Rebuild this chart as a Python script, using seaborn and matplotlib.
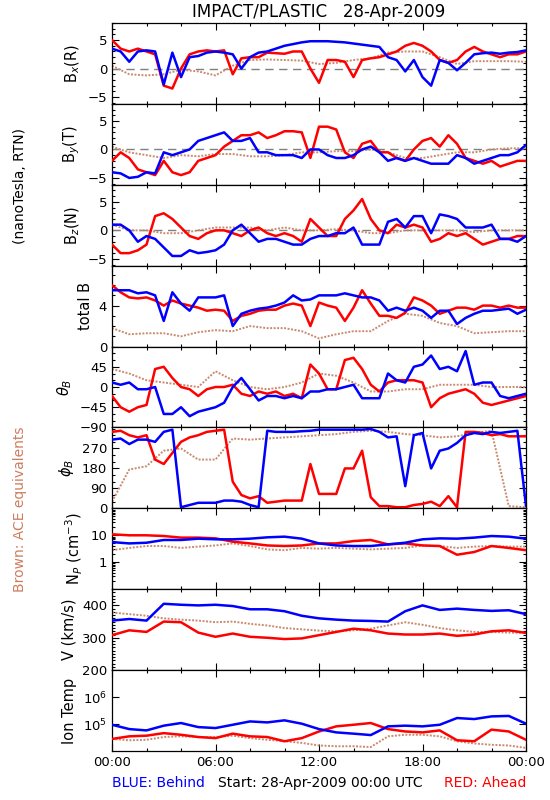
import numpy as np
import matplotlib
matplotlib.use('Agg')
import matplotlib.pyplot as plt
from matplotlib.ticker import MultipleLocator, FixedLocator, NullFormatter, NullLocator, LogLocator
import seaborn as sns

# time grids (hours after 28-Apr-2009 00:00 UTC)
hours = np.arange(0, 24.5, 0.5)      # STEREO A/B, half-hourly reads
hours_ace = np.arange(0, 25, 1)      # ACE and plasma, hourly reads

# --- magnetic field, nT (half-hourly for STEREO, hourly for ACE) ---
bx_blue = [3.5, 3.0, 1.2, 3.0, 3.2, 3.0, -2.8, 2.8, -1.5, 2.0, 2.2, 2.8, 3.0, 2.8, 2.5, 0.0,
           2.0, 2.8, 3.0, 3.5, 4.0, 4.3, 4.6, 4.8, 4.8, 4.8, 4.7, 4.6, 4.4, 4.2, 4.0, 3.8,
           2.0, 1.5, -0.5, 1.5, -1.5, -3.0, 1.5, 1.0, -0.3, 1.0, 2.5, 2.7, 2.8, 2.6, 2.8, 2.9, 3.2]
bx_red = [5.0, 3.5, 3.0, 3.5, 3.0, 2.5, -3.0, -3.5, 0.0, 2.5, 3.0, 3.2, 3.0, 3.2, -1.0, 1.8,
          2.0, 2.0, 2.8, 2.7, 2.6, 3.0, 3.0, 0.0, -2.5, 1.5, 1.5, 1.2, -1.5, 1.5, 1.8, 2.0,
          2.5, 3.0, 4.0, 4.5, 4.0, 3.0, 1.5, 1.0, 1.5, 3.0, 3.8, 3.0, 2.5, 2.0, 2.5, 2.5, 3.0]
bx_brown = [0.5, -1.0, -1.2, -1.0, -0.2, -0.5, -1.2, 0.5, 1.5, 1.6, 1.5, 1.4, 0.8, 1.0, 1.5,
            1.8, 2.8, 3.0, 3.0, 2.0, 0.8, 1.3, 1.3, 1.3, 1.2]

by_blue = [-4.0, -4.2, -5.0, -4.8, -4.0, -4.2, -0.5, -1.0, -0.5, 0.0, 1.5, 2.0, 2.5, 3.0, 1.5, 1.5,
           2.0, -0.5, -0.5, -1.0, -1.0, -1.0, -1.5, 0.0, 0.0, -1.0, -1.5, -1.5, -1.0, 0.0, 0.5, -0.5,
           -2.0, -1.5, -2.0, -1.5, -2.0, -2.5, -2.5, -2.5, -1.0, -1.5, -2.5, -2.0, -1.5, -1.0, -1.0, -0.5, 0.8]
by_red = [-2.0, -0.5, -1.5, -3.5, -4.0, -4.5, -2.0, -4.0, -4.5, -4.0, -2.0, -1.5, -1.0, 0.5, 1.5, 2.5,
          2.5, 3.0, 2.0, 2.5, 3.2, 3.2, 3.0, -1.5, 4.0, 4.0, 3.5, -0.5, -1.5, 1.0, 1.5, -0.5,
          -0.5, -1.5, -2.0, 0.0, 1.5, 2.0, 0.5, 2.5, 1.0, -1.5, -2.0, -2.5, -2.0, -3.0, -2.5, -2.0, -2.0]
by_brown = [0.5, -0.5, -1.0, -1.5, -1.0, -1.2, -0.8, -0.8, -1.2, -1.2, -1.0, -0.5, -0.5, -0.3,
            -0.3, 0.0, -0.5, -1.5, -1.5, -1.0, -0.5, -0.5, 0.0, 0.2, 0.2]

bz_blue = [1.0, 1.0, 0.0, -2.0, -1.0, -1.5, -3.0, -4.5, -4.5, -3.5, -4.0, -3.8, -3.5, -2.5, 0.0, 1.0,
           -0.5, -2.0, -1.5, -1.5, -2.0, -2.5, -2.5, -1.5, -1.0, -1.0, -0.5, -0.5, 0.5, -2.5, -2.5, -2.5,
           1.5, 2.0, 0.5, 2.5, 2.5, -0.5, 2.8, 2.5, 2.0, 0.5, 0.5, 0.5, 1.0, -1.5, -1.5, -2.0, -1.0]
bz_red = [-2.5, -4.0, -4.0, -3.5, -2.5, 2.5, 3.0, 2.0, 0.5, -1.0, -1.5, -0.5, 0.0, 0.0, -0.5, -1.0,
          0.0, 0.5, -0.5, -1.0, -0.5, -1.0, -2.0, 2.0, 0.5, -1.0, -1.0, 2.0, 3.5, 5.5, 2.0, 0.0,
          -0.5, 1.0, 0.5, 1.0, 0.5, -2.0, -1.5, -0.5, -1.0, -0.5, -1.5, -2.5, -2.0, -1.5, -1.5, -1.0, -1.0]
bz_brown = [1.0, 0.0, 0.0, -0.5, -0.5, 0.0, 0.5, 0.5, 0.5, 0.0, 0.5, 0.0, 0.0, 0.2, 0.0, -0.5,
            -0.5, 0.0, 0.0, 0.0, 0.0, -0.3, 0.0, 0.0, 0.0]

btot_blue = [5.5, 5.5, 5.5, 5.2, 5.3, 5.0, 2.5, 5.3, 4.2, 3.5, 4.8, 4.8, 4.8, 5.0, 2.0, 3.2,
             3.5, 3.7, 3.8, 4.0, 4.3, 5.0, 4.5, 4.6, 5.0, 5.0, 5.0, 5.2, 5.0, 4.8, 4.8, 4.5,
             3.5, 3.8, 3.5, 3.8, 3.5, 2.8, 3.5, 3.5, 2.2, 2.8, 3.2, 3.5, 3.5, 3.6, 3.7, 3.2, 3.6]
btot_red = [6.0, 5.3, 4.8, 4.7, 4.8, 4.5, 4.0, 4.5, 4.2, 4.0, 3.8, 3.5, 3.6, 3.5, 2.5, 3.0,
            3.2, 3.5, 3.6, 3.6, 4.0, 4.2, 4.0, 2.0, 4.3, 4.0, 3.8, 2.5, 3.8, 5.5, 4.2, 3.0,
            3.0, 2.8, 3.3, 4.8, 4.5, 4.0, 3.2, 3.5, 3.8, 3.8, 3.6, 4.0, 4.0, 3.8, 4.0, 3.8, 3.8]
btot_brown = [1.8, 1.2, 1.3, 1.3, 1.0, 1.4, 1.6, 1.5, 2.0, 1.8, 1.8, 1.5, 0.8, 1.2, 1.5, 1.5,
              2.5, 3.2, 3.0, 2.3, 2.0, 1.3, 1.4, 1.5, 1.5]

theta_blue = [10, 5, 10, -5, -5, 0, -60, -60, -45, -65, -55, -50, -45, -35, 0, 20,
              -5, -30, -20, -20, -25, -20, -25, -10, -10, -5, -5, 0, 5, -25, -25, -25,
              30, 15, 10, 45, 50, 70, 40, 45, 35, 80, 5, 10, 10, -20, -25, -20, -15]
theta_red = [-20, -45, -55, -45, -40, 40, 45, 20, 0, -5, -20, -5, 0, 0, 5, -15,
             -20, -10, -15, -10, -20, -15, -25, 50, 30, -5, -5, 60, 65, 40, 5, -10,
             10, 15, 15, 15, 10, -45, -25, -15, -10, -5, -15, -35, -40, -35, -30, -25, -20]
theta_brown = [40, 30, 15, 10, 5, 0, 35, 15, 0, -5, 0, 10, 30, 25, 10, -10, -10, -5, -5, 5,
               5, 5, 0, 0, 0]

phi_blue = [310, 315, 290, 310, 310, 300, 345, 355, 5, 15, 25, 25, 25, 35, 35, 30,
            15, 5, 350, 345, 345, 345, 348, 350, 355, 355, 355, 355, 355, 355, 358, 345,
            320, 325, 100, 330, 340, 180, 260, 270, 295, 330, 340, 335, 345, 340, 345, 350, 10]
phi_red = [345, 350, 330, 320, 330, 220, 200, 250, 300, 320, 330, 345, 350, 355, 120, 60,
           45, 55, 25, 30, 35, 35, 35, 200, 65, 65, 65, 180, 180, 260, 50, 10,
           10, 5, 5, 15, 20, 30, 10, 55, 5, 345, 345, 340, 330, 335, 325, 325, 325]
phi_brown = [30, 175, 190, 260, 270, 220, 220, 315, 310, 315, 320, 325, 330, 335, 345, 350,
             345, 335, 330, 320, 325, 340, 350, 10, 5]

# --- plasma (hourly) ---
np_blue = [5.6, 5.0, 5.3, 6.7, 6.7, 7.5, 7.1, 7.1, 7.5, 8.4, 8.9, 7.5, 5.0, 4.2, 4.0, 4.0,
           4.6, 5.3, 7.1, 7.7, 7.5, 8.2, 9.4, 8.9, 7.5]
np_red = [10.9, 10.0, 10.0, 9.4, 8.2, 8.2, 7.7, 5.8, 5.0, 4.2, 4.0, 4.2, 5.0, 5.0, 6.1, 6.7,
          4.6, 5.0, 4.2, 4.0, 1.9, 2.4, 4.0, 3.4, 2.8]
np_brown = [2.8, 3.4, 4.0, 4.0, 3.4, 3.8, 4.2, 5.0, 4.0, 3.0, 2.8, 3.4, 3.2, 3.4, 3.2, 3.0,
            3.2, 3.4, 4.2, 4.0, 3.4, 3.8, 4.0, 3.8, 3.8]

v_blue = [353, 358, 353, 405, 402, 400, 402, 398, 388, 388, 382, 368, 360, 356, 353, 352,
          350, 382, 400, 386, 390, 386, 383, 385, 373]
v_red = [308, 323, 318, 350, 348, 316, 303, 313, 303, 300, 296, 298, 308, 318, 328, 323,
         313, 310, 310, 313, 306, 310, 320, 323, 315]
v_brown = [378, 373, 368, 360, 356, 353, 348, 350, 343, 338, 330, 326, 322, 320, 323, 328,
           338, 348, 340, 330, 323, 318, 318, 316, 315]

t_blue = [9.4e4, 6.5e4, 5.8e4, 8.7e4, 1.09e5, 7.7e4, 7.1e4, 9.4e4, 1.25e5, 1.15e5, 1.37e5,
          1.03e5, 6.5e4, 4.9e4, 4.4e4, 3.9e4, 8.2e4, 8.7e4, 8.2e4, 9.4e4, 1.67e5, 1.53e5,
          1.92e5, 2.0e5, 1.03e5]
t_red = [2.8e4, 3.5e4, 3.7e4, 4.6e4, 4.0e4, 3.3e4, 3.0e4, 4.4e4, 3.5e4, 3.3e4, 2.3e4, 3.0e4,
         5.3e4, 8.2e4, 9.4e4, 1.09e5, 6.5e4, 5.3e4, 4.9e4, 5.8e4, 2.5e4, 2.3e4, 6.2e4, 5.3e4, 2.6e4]
t_brown = [2.8e4, 2.5e4, 2.6e4, 3.3e4, 3.5e4, 3.3e4, 3.3e4, 3.7e4, 3.0e4, 2.6e4, 2.3e4, 2.0e4,
           1.6e4, 1.5e4, 1.5e4, 1.4e4, 3.5e4, 4.0e4, 4.0e4, 3.5e4, 2.3e4, 1.9e4, 1.7e4, 1.6e4, 1.3e4]

xtick_labels = ['00:00', '06:00', '12:00', '18:00', '00:00']

BLUE = '#0000FF'
RED = '#FF0000'
BROWN = '#C98A6E'
BROWN_TEXT = '#CD7D5F'

sns.set_style('ticks')
plt.rcParams['font.family'] = ['DejaVu Sans']
plt.rcParams['axes.linewidth'] = 0.9
plt.rcParams['text.color'] = 'black'
plt.rcParams['axes.labelcolor'] = 'black'
plt.rcParams['xtick.color'] = 'black'
plt.rcParams['ytick.color'] = 'black'

fig, axes = plt.subplots(9, 1, figsize=(5.5, 8), dpi=100, sharex=True)
fig.subplots_adjust(left=112 / 550, right=526 / 550, top=1 - 23 / 800, bottom=1 - 751 / 800, hspace=0)

# label, ace, ahead, behind, stereo time grid, ylim, ticks, ticklabels, minor step, log, zero line
panels = [
    (r'B$_x$(R)', bx_brown, bx_red, bx_blue, hours, (-6.2, 8), [-5, 0, 5], ['\u22125', '0', '5'], 1, False, True),
    (r'B$_y$(T)', by_brown, by_red, by_blue, hours, (-6.2, 8), [-5, 0, 5], ['\u22125', '0', '5'], 1, False, True),
    (r'B$_z$(N)', bz_brown, bz_red, bz_blue, hours, (-6.2, 8), [-5, 0, 5], ['\u22125', '0', '5'], 1, False, True),
    ('total B', btot_brown, btot_red, btot_blue, hours, (0, 7.9), [0, 4], ['0', '4'], 1, False, False),
    (r'$\theta_B$', theta_brown, theta_red, theta_blue, hours, (-90, 90), [-90, -45, 0, 45],
     ['\u221290', '\u221245', '0', '45'], 15, False, False),
    (r'$\phi_B$', phi_brown, phi_red, phi_blue, hours, (0, 365), [0, 90, 180, 270],
     ['0', '90', '180', '270'], 30, False, False),
    (r'N$_P$ (cm$^{-3}$)', np_brown, np_red, np_blue, hours_ace, (0.1, 100), [1, 10], ['1', '10'], None, True, False),
    ('V (km/s)', v_brown, v_red, v_blue, hours_ace, (200, 450), [200, 300, 400], ['200', '300', '400'], 10, False, False),
    ('Ion Temp', t_brown, t_red, t_blue, hours_ace, (1e4, 1e7), [1e5, 1e6], [r'10$^5$', r'10$^6$'], None, True, False),
]

for ax, (label, ace, ahead, behind, tgrid, ylim, ticks, tlabels, minor, logy, zero) in zip(axes, panels):
    if zero:
        ax.axhline(0, color='#808080', ls=(0, (6, 4)), lw=1.0, zorder=1)
    sns.lineplot(x=hours_ace, y=ace, ax=ax, color=BROWN, lw=1.4, ls=(0, (1, 0.8)),
                 estimator=None, sort=False, legend=False, zorder=2)
    sns.lineplot(x=tgrid, y=ahead, ax=ax, color=RED, lw=1.8, estimator=None, sort=False,
                 legend=False, zorder=3)
    sns.lineplot(x=tgrid, y=behind, ax=ax, color=BLUE, lw=1.8, estimator=None, sort=False,
                 legend=False, zorder=4)
    if logy:
        ax.set_yscale('log')
    ax.set_ylim(*ylim)
    ax.yaxis.set_major_locator(FixedLocator(ticks))
    ax.set_yticklabels(tlabels)
    if logy:
        if label.startswith('N'):
            ax.yaxis.set_minor_locator(LogLocator(base=10, subs=np.arange(2, 10), numticks=12))
        else:
            ax.yaxis.set_minor_locator(NullLocator())
        ax.yaxis.set_minor_formatter(NullFormatter())
    else:
        ax.yaxis.set_minor_locator(MultipleLocator(minor))
    ax.set_ylabel(label, fontsize=10.5, color='black')
    ax.set_xlim(0, 24)
    ax.xaxis.set_major_locator(MultipleLocator(6))
    ax.xaxis.set_minor_locator(MultipleLocator(2))
    ax.tick_params(axis='both', which='both', direction='in', top=True, right=True,
                   labelsize=9.5, width=0.8, colors='black', labelcolor='black')
    ax.tick_params(axis='both', which='major', length=5)
    ax.tick_params(axis='both', which='minor', length=2.5)
    for sp in ax.spines.values():
        sp.set_color('black')
        sp.set_visible(True)

axes[-1].set_xticks([0, 6, 12, 18, 24])
axes[-1].set_xticklabels(xtick_labels, fontsize=9.5)
axes[-1].set_xlabel('')
for ax in axes[:-1]:
    ax.set_xlabel('')

fig.text(0.58, 1 - 12 / 800, 'IMPACT/PLASTIC   28-Apr-2009', ha='center', va='center',
         fontsize=12, color='black')
fig.text(20 / 550, 1 - 186 / 800, '(nanoTesla, RTN)', rotation=90, ha='center', va='center',
         fontsize=10, color='black')
fig.text(20 / 550, 1 - 509 / 800, 'Brown: ACE equivalents', rotation=90, ha='center', va='center',
         fontsize=10, color=BROWN_TEXT)
fig.text(112 / 550, 1 - 783 / 800, 'BLUE: Behind', ha='left', va='center', fontsize=10, color=BLUE)
fig.text(320 / 550, 1 - 783 / 800, 'Start: 28-Apr-2009 00:00 UTC', ha='center', va='center',
         fontsize=10, color='black')
fig.text(526 / 550, 1 - 783 / 800, 'RED: Ahead', ha='right', va='center', fontsize=10, color=RED)

fig.savefig('out.png', dpi=100)
